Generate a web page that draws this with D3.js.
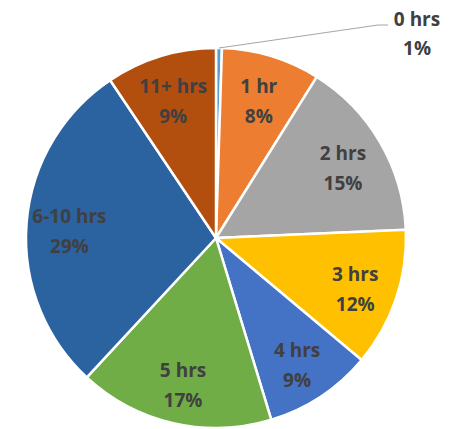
<!DOCTYPE html>
<html>
<head>
<meta charset="utf-8">
<script src="https://cdn.jsdelivr.net/npm/d3@7/dist/d3.min.js"></script>
<style>
  html, body { margin: 0; padding: 0; background: #fff; }
  svg { display: block; }
  text { font-family: "Open Sans", "DejaVu Sans", sans-serif; font-weight: 700; }
</style>
</head>
<body>
<svg id="chart" width="452" height="429"></svg>
<script>
// Daily hours spent, share of respondents (percent)
const categories = ["0 hrs", "1 hr", "2 hrs", "3 hrs", "4 hrs", "5 hrs", "6-10 hrs", "11+ hrs"];
const shares = [0.5, 8.4, 15.4, 11.8, 9.2, 16.6, 28.7, 9.4];
const colors = ["#5B9BD5", "#ED7D31", "#A5A5A5", "#FFC000", "#4472C4", "#70AD47", "#2A63A0", "#B24F0E"];

const width = 452, height = 429;
const cx = 216, cy = 238, radius = 190, labelRadius = 147;

const svg = d3.select("#chart");
const g = svg.append("g").attr("transform", `translate(${cx},${cy})`);

const data = categories.map((c, i) => ({ cat: c, value: shares[i], color: colors[i] }));
const total = d3.sum(shares);
const pct = d3.format(".0%");

const pie = d3.pie().value(d => d.value).sort(null);
const arcs = pie(data);

const arc = d3.arc().innerRadius(0).outerRadius(radius);
const labelArc = d3.arc().innerRadius(labelRadius).outerRadius(labelRadius);

g.selectAll("path.slice")
  .data(arcs)
  .join("path")
  .attr("class", "slice")
  .attr("d", arc)
  .attr("fill", d => d.data.color)
  .attr("stroke", "#fff")
  .attr("stroke-width", 2.5)
  .attr("stroke-linejoin", "round");

// Two-line label: category name above, rounded percentage below
function twoLine(sel, name, share, top, bottom) {
  sel.append("text")
    .attr("text-anchor", "middle")
    .attr("dominant-baseline", "middle")
    .attr("y", top)
    .attr("font-size", 19)
    .attr("fill", "#404040")
    .text(name);
  sel.append("text")
    .attr("text-anchor", "middle")
    .attr("dominant-baseline", "middle")
    .attr("y", bottom)
    .attr("font-size", 19)
    .attr("fill", "#404040")
    .text(pct(share / total));
}

// Inside labels for every slice large enough to hold one
arcs.filter(d => d.data.value >= 2).forEach(d => {
  const t = g.append("g").attr("transform", `translate(${labelArc.centroid(d)})`);
  twoLine(t, d.data.cat, d.data.value, -9, 21);
});

// Thin slices get an outside label with a leader line
arcs.filter(d => d.data.value < 2).forEach(d => {
  const mid = (d.startAngle + d.endAngle) / 2;
  const x0 = Math.sin(mid) * radius, y0 = -Math.cos(mid) * radius;
  const lx = 386 - cx, ly = 25 - cy;
  g.append("polyline")
    .attr("points", [[x0, y0], [lx - 8, ly], [lx + 2, ly]].map(p => p.join(",")).join(" "))
    .attr("fill", "none")
    .attr("stroke", "#A6A6A6")
    .attr("stroke-width", 1.2);
  const t = g.append("g").attr("transform", `translate(${lx + 31},${ly + 9})`);
  twoLine(t, d.data.cat, d.data.value, -13, 16);
});
</script>
</body>
</html>
